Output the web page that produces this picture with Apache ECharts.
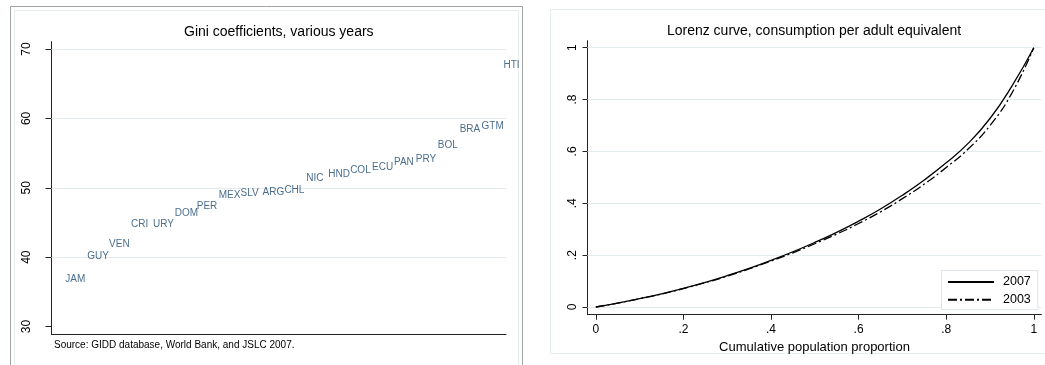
<!DOCTYPE html>
<html>
<head>
<meta charset="utf-8">
<script src="https://cdn.jsdelivr.net/npm/echarts@6/dist/echarts.min.js"></script>
<style>
html,body{margin:0;padding:0;background:#fff;}
#chart{width:1045px;height:365px;}
</style>
</head>
<body>
<div id="chart"></div>
<script>
// ---- Data ----
const countries = ['JAM','GUY','VEN','CRI','URY','DOM','PER','MEX','SLV','ARG','CHL','NIC','HND','COL','ECU','PAN','PRY','BOL','BRA','GTM','HTI'];
const gini = [36.8,40.2,41.9,44.7,44.8,46.4,47.4,48.9,49.25,49.4,49.7,51.4,52.0,52.5,53.0,53.7,54.1,56.2,58.5,58.8,67.7];
const giniTicks = [30,40,50,60,70];
const giniGridLines = [40,50,60,70];

const popShare   = [0,0.05,0.10,0.15,0.20,0.25,0.30,0.35,0.40,0.45,0.50,0.55,0.60,0.65,0.70,0.75,0.80,0.85,0.90,0.95,1.0];
const lorenz2007 = [0,0.015,0.032,0.051,0.072,0.095,0.121,0.149,0.180,0.213,0.249,0.288,0.331,0.378,0.431,0.490,0.556,0.631,0.727,0.852,1.0];
const lorenz2003 = [0,0.015,0.032,0.050,0.071,0.094,0.119,0.147,0.177,0.209,0.244,0.281,0.322,0.367,0.418,0.474,0.538,0.609,0.700,0.825,1.0];
const lorenzTicks = [0,0.2,0.4,0.6,0.8,1];
const lorenzTickLabels = ['0','.2','.4','.6','.8','1'];
const lorenzGridLines = [0,0.2,0.4,0.6,0.8,1];
const seriesNames = ['2007','2003'];

// ---- Chart ----
const FONT = '"Liberation Sans", Arial, Helvetica, sans-serif';
const chart = echarts.init(document.getElementById('chart'), null, {renderer:'canvas'});
const gridColor = '#e3ebee';
const axisColor = '#222';

function lorenzLabel(v){
  for (let i=0;i<lorenzTicks.length;i++){ if (Math.abs(lorenzTicks[i]-v)<1e-9) return lorenzTickLabels[i]; }
  return '';
}

const option = {
  animation:false,
  backgroundColor:'#fff',
  textStyle:{fontFamily:FONT},
  title:[
    {text:'Gini coefficients, various years', left:278.8, top:32.5, textAlign:'center', textVerticalAlign:'middle', padding:0,
     textStyle:{fontSize:14, fontWeight:'normal', color:'#000', fontFamily:FONT}},
    {text:'Lorenz curve, consumption per adult equivalent', left:814, top:31, textAlign:'center', textVerticalAlign:'middle', padding:0,
     textStyle:{fontSize:14, fontWeight:'normal', color:'#000', fontFamily:FONT}},
    {text:'Source: GIDD database, World Bank, and JSLC 2007.', left:54, top:345.5, textAlign:'left', textVerticalAlign:'middle', padding:0,
     textStyle:{fontSize:10, fontWeight:'normal', color:'#000', fontFamily:FONT}}
  ],
  graphic:[
    {type:'rect', shape:{x:10.5, y:6.5, width:512, height:380}, style:{fill:'none', stroke:'#a3a3a3', lineWidth:1}, silent:true, z:-10},
    {type:'rect', shape:{x:14.5, y:10.5, width:504, height:380}, style:{fill:'none', stroke:'#e6eef0', lineWidth:1}, silent:true, z:-10},
    {type:'rect', shape:{x:550.5, y:9.5, width:520, height:344}, style:{fill:'none', stroke:'#e6eef0', lineWidth:1}, silent:true, z:-10}
  ],
  legend:{
    data:seriesNames, orient:'vertical', left:941.5, top:270.5,
    padding:[5,7,3.5,5.5], itemWidth:46, itemHeight:14, itemGap:4.7,
    borderColor:'#dfe5e8', borderWidth:1, backgroundColor:'#fff',
    itemStyle:{color:'rgba(0,0,0,0)', borderWidth:0, opacity:0},
    textStyle:{fontSize:12.5, color:'#000', fontFamily:FONT, padding:[0,0,0,4]},
    selectedMode:false
  },
  grid:[
    {left:51.5, top:41.7, width:454.5, height:292.6, containLabel:false},
    {left:587.5, top:40.7, width:454, height:274, containLabel:false}
  ],
  xAxis:[
    {gridIndex:0, type:'value', min:0.393, max:21.137,
     axisLine:{show:true, onZero:false, lineStyle:{color:axisColor, width:1}},
     axisTick:{show:false}, axisLabel:{show:false}, splitLine:{show:false}},
    {gridIndex:1, type:'value', min:-0.019, max:1.0176,
     axisLine:{show:true, onZero:false, lineStyle:{color:axisColor, width:1}},
     axisTick:{show:true, length:5, customValues:lorenzTicks, lineStyle:{color:axisColor}},
     axisLabel:{show:true, customValues:lorenzTicks, formatter:lorenzLabel, margin:9, fontSize:12, color:'#000', fontFamily:FONT},
     splitLine:{show:false},
     name:'Cumulative population proportion', nameLocation:'middle', nameGap:20.5,
     nameTextStyle:{fontSize:13, color:'#000', fontFamily:FONT}}
  ],
  yAxis:[
    {gridIndex:0, type:'value', min:28.89, max:71.05,
     axisLine:{show:true, onZero:false, lineStyle:{color:axisColor, width:1}},
     axisTick:{show:true, length:6, customValues:giniTicks, lineStyle:{color:axisColor}},
     axisLabel:{show:true, customValues:giniTicks, rotate:90, margin:19, fontSize:12, color:'#000', fontFamily:FONT},
     splitLine:{show:false}},
    {gridIndex:1, type:'value', min:-0.0297, max:1.027,
     axisLine:{show:true, onZero:false, lineStyle:{color:axisColor, width:1}},
     axisTick:{show:true, length:5, customValues:lorenzTicks, lineStyle:{color:axisColor}},
     axisLabel:{show:true, customValues:lorenzTicks, formatter:lorenzLabel, rotate:90, margin:9, fontSize:12, color:'#000', fontFamily:FONT},
     splitLine:{show:false}}
  ],
  series:[
    {type:'scatter', name:'Gini', xAxisIndex:0, yAxisIndex:0, symbolSize:1,
     itemStyle:{color:'rgba(0,0,0,0)'},
     data:countries.map((c,i)=>({name:c, value:[i+1, gini[i]]})),
     label:{show:true, position:'right', distance:0, formatter:'{b}', fontSize:10, color:'#1a476f', fontFamily:FONT},
     emphasis:{disabled:true},
     markLine:{silent:true, symbol:['none','none'], z:1, label:{show:false}, animation:false,
       lineStyle:{color:gridColor, width:1, type:'solid'},
       emphasis:{disabled:true},
       data:giniGridLines.map(v=>({yAxis:v}))}
    },
    {type:'line', name:seriesNames[0], xAxisIndex:1, yAxisIndex:1, showSymbol:false, symbol:'none',
     smooth:0.5, lineStyle:{color:'#000', width:1.3, type:'solid'}, itemStyle:{color:'#000'},
     emphasis:{disabled:true}, z:3,
     data:popShare.map((p,i)=>[p, lorenz2007[i]]),
     markLine:{silent:true, symbol:['none','none'], z:1, label:{show:false}, animation:false,
       lineStyle:{color:gridColor, width:1, type:'solid'},
       emphasis:{disabled:true},
       data:lorenzGridLines.map(v=>({yAxis:v}))}
    },
    {type:'line', name:seriesNames[1], xAxisIndex:1, yAxisIndex:1, showSymbol:false, symbol:'none',
     smooth:0.5, lineStyle:{color:'#000', width:1.3, type:[9,3,2,3]}, itemStyle:{color:'#000'},
     emphasis:{disabled:true}, z:3,
     data:popShare.map((p,i)=>[p, lorenz2003[i]])
    }
  ]
};
chart.setOption(option);
</script>
</body>
</html>
